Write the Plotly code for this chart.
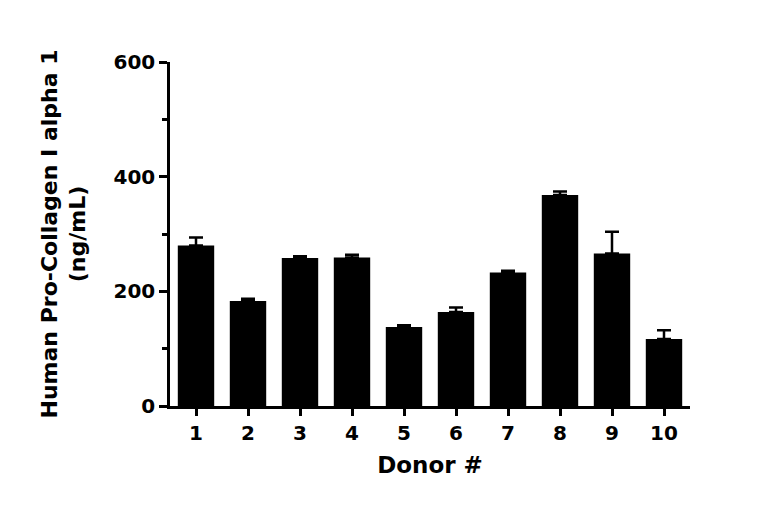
import plotly.graph_objects as go

donors = ["1", "2", "3", "4", "5", "6", "7", "8", "9", "10"]
means = [280, 183, 258, 259, 138, 164, 233, 368, 266, 117]
sem = [14, 4, 3, 5, 3, 8, 3, 6, 38, 15]

FONT = "DejaVu Sans"

fig = go.Figure()
fig.add_bar(
    x=list(range(1, 11)), y=means, width=0.7,
    marker=dict(color="black", line=dict(color="black", width=0)),
    error_y=dict(type="data", array=sem, arrayminus=[0] * 10, symmetric=False,
                 color="black", thickness=2.5, width=7),
    showlegend=False,
)

fig.update_layout(
    width=768, height=519, paper_bgcolor="white", plot_bgcolor="white",
    margin=dict(l=162, r=86, t=54, b=121),
    font=dict(family=FONT, color="black"),
    xaxis=dict(
        range=[0.5, 10.5], tickvals=list(range(1, 11)), ticktext=donors,
        showline=True, linecolor="black", linewidth=2.5, ticks="outside",
        tickwidth=2.5, ticklen=7, tickcolor="black", showgrid=False,
        tickfont=dict(size=20, family=FONT, weight="bold"),
        title=dict(text="<b>Donor #</b>", font=dict(size=23), standoff=14),
    ),
    yaxis=dict(
        range=[0, 600], tickvals=[0, 200, 400, 600],
        showline=True, linecolor="black", linewidth=2.5, ticks="outside",
        tickwidth=2.5, ticklen=8, tickcolor="black", showgrid=False, zeroline=False,
        tickfont=dict(size=20, family=FONT, weight="bold"),
        minor=dict(tickvals=[100, 300, 500], ticks="outside", ticklen=5,
                   tickwidth=2.5, tickcolor="black"),
        title=dict(text="<b>Human Pro-Collagen I alpha 1<br>(ng/mL)</b>",
                   font=dict(size=22), standoff=22),
    ),
)

fig.write_html("out.html")
